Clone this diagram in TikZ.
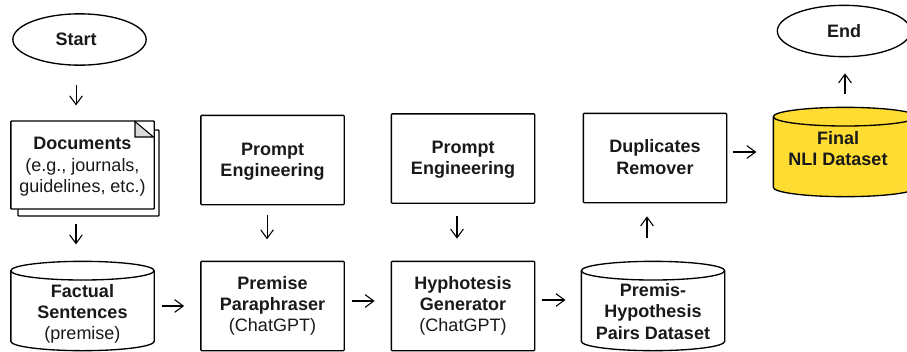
\documentclass[tikz,border=0pt]{standalone}
\usepackage{fontspec}
\usepackage{xcolor}
\usetikzlibrary{arrows.meta,shapes.geometric}
\setmainfont{Liberation Sans}
\definecolor{finalyellow}{HTML}{FFDC32}
\definecolor{foldgray}{HTML}{D9D9D9}
\tikzset{
    every node/.style={font=\fontsize{13.5pt}{16pt}\selectfont, align=center, inner sep=0pt, text=black!90},
    flowbox/.style={draw, line width=1pt, rounded corners=0.6pt, minimum width=107.5pt, minimum height=67pt},
    terminal/.style={draw, line width=1pt, ellipse, minimum width=100pt, minimum height=38.5pt},
    datastore/.style={minimum width=108.5pt, minimum height=68pt, path picture={
        \draw[line width=1pt, fill=#1] ([shift={(0.5pt,-7.5pt)}]path picture bounding box.north west) -- ([shift={(0.5pt,7.5pt)}]path picture bounding box.south west)
            arc[start angle=180, end angle=360, x radius=53.75pt, y radius=7pt] -- ([shift={(-0.5pt,-7.5pt)}]path picture bounding box.north east)
            arc[start angle=0, end angle=180, x radius=53.75pt, y radius=7pt] -- cycle;
        \draw[line width=1pt] ([shift={(0.5pt,-7.5pt)}]path picture bounding box.north west)
            arc[start angle=180, end angle=360, x radius=53.75pt, y radius=7pt];
    }},
    datastore/.default=white,
    flowarrow/.style={-{Straight Barb[length=6.5pt,width=9.5pt]}, line width=0.8pt},
}

\begin{document}
\begin{tikzpicture}[x=0.75pt,y=-0.75pt]
    \useasboundingbox (0,0) rectangle (907,351);

    % left column
    \node[terminal] (start) at (79.5,39.5) {\mbox{\textbf{Start}\kern5pt}};
    \draw[line width=1pt, rounded corners=0.6pt] (18,209) -- (18,216) -- (159,216) -- (159,130) -- (154,130);
    \node[flowbox, fill=white, minimum height=66pt, text depth=0pt] (documents) at (82.5,165) {\textbf{Documents}\\(e.g., journals,\\guidelines, etc.)};
    \draw[line width=0.8pt, fill=foldgray] (135,121.5) -- (153.5,137) -- (135,137) -- cycle;
    \node[datastore, text height=53.5pt] (factual) at (82.5,306) {\textbf{Factual}\\\textbf{Sentences}\\(premise)};

    % prompts and generators
    \node[flowbox, text depth=0pt] (prompt1) at (272.5,160) {\textbf{Prompt}\\\textbf{Engineering}};
    \node[flowbox] (paraphraser) at (272.5,306) {\textbf{Premise}\\\textbf{Paraphraser}\\(ChatGPT)};
    \node[flowbox, text depth=1.5pt] (prompt2) at (463,158.5) {\textbf{Prompt}\\\textbf{Engineering}};
    \node[flowbox] (generator) at (463,306) {\textbf{Hyphotesis}\\\textbf{Generator}\\(ChatGPT)};

    % right part
    \node[datastore, text height=50pt] (pairs) at (653,306) {\textbf{Premis-}\\\textbf{Hypothesis}\\\textbf{Pairs Dataset}};
    \node[flowbox, text depth=1.5pt] (remover) at (655,158) {\textbf{Duplicates}\\\textbf{Remover}};
    \node[datastore=finalyellow, text depth=5pt] (final) at (845,152) {\mbox{\textbf{Final}\kern10.5pt}\\\mbox{\textbf{NLI Dataset}\kern10.5pt}};
    \node[terminal] (end) at (844,31) {\textbf{End}};

    % connectors
    \draw[flowarrow, shorten <=14.2pt, shorten >=11.2pt] ([xshift=-2.6pt]start.south) -- ([xshift=-2.6pt]start.south |- documents.north);
    \draw[flowarrow, shorten <=10.5pt, shorten >=12pt] ([xshift=-4.9pt]documents.south) -- ([xshift=-4.9pt]factual.north);
    \draw[flowarrow, shorten <=5.2pt, shorten >=12pt] (factual) -- (paraphraser);
    \draw[flowarrow, shorten <=7.5pt, shorten >=16pt] ([xshift=-4.1pt]prompt1.south) -- ([xshift=-4.1pt]paraphraser.north);
    \draw[flowarrow, shorten <=5.6pt, shorten >=12pt] ([yshift=3.75pt]paraphraser.east) -- ([yshift=3.75pt]generator.west);
    \draw[flowarrow, shorten <=9pt, shorten >=16.5pt] ([xshift=-4.5pt]prompt2.south) -- ([xshift=-4.5pt]generator.north);
    \draw[flowarrow, shorten <=5.2pt, shorten >=11.2pt] ([yshift=4.5pt]generator.east) -- ([yshift=4.5pt]pairs.west);
    \draw[flowarrow, shorten <=16.5pt, shorten >=9.75pt] ([xshift=-4.5pt]pairs.north) -- ([xshift=-4.5pt]pairs.north |- remover.south);
    \draw[flowarrow, shorten <=4.5pt, shorten >=12pt] ([yshift=4.5pt]remover.east) -- ([yshift=4.5pt]remover.east -| final.west);
    \draw[flowarrow, shorten <=9pt, shorten >=12pt] (final.north) -- (final.north |- end.south);
\end{tikzpicture}
\end{document}
